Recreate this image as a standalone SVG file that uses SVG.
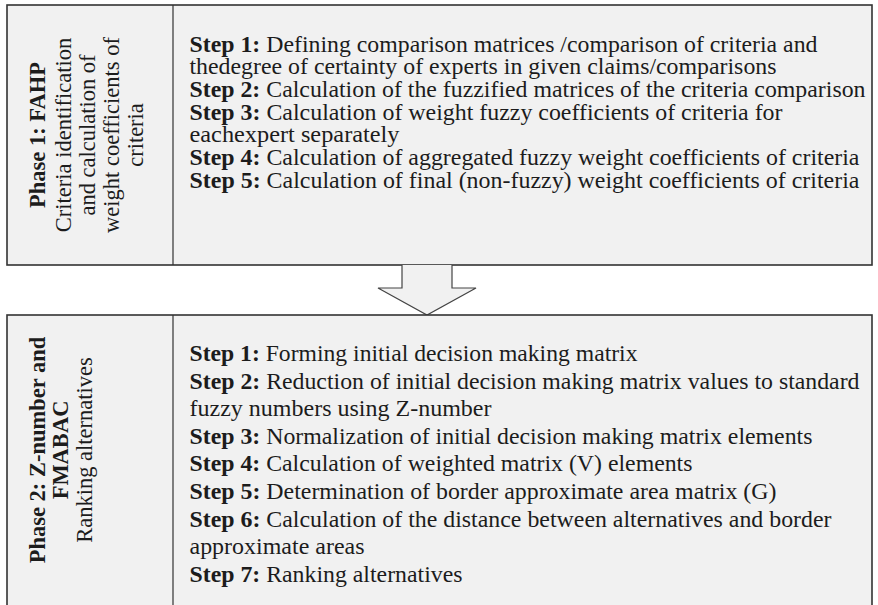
<svg xmlns="http://www.w3.org/2000/svg" width="878" height="605" viewBox="0 0 878 605">
<style>
.box{fill:#f1f1f1;stroke:#333;stroke-width:1.6}
.div{stroke:#333;stroke-width:1.2}
.st{font-family:"Liberation Serif","Times New Roman",serif;font-size:22.5px;fill:#1c1c1c}
.b{font-weight:bold}
.ph{font-family:"Liberation Serif","Times New Roman",serif;font-size:22.5px;fill:#1c1c1c;text-anchor:middle}
.arrow{fill:#f1f1f1;stroke:#444;stroke-width:1.2}
</style>
<rect width="878" height="605" fill="#fff"/>
<g id="phase1">
<rect class="box" x="7" y="5" width="865" height="260"/>
<line class="div" x1="173" y1="5" x2="173" y2="265"/>
<g transform="translate(0,135) rotate(-90)">
<text class="ph b" x="0" y="45">Phase 1: FAHP</text>
<text class="ph" x="0" y="71">Criteria identification</text>
<text class="ph" x="0" y="95">and calculation of</text>
<text class="ph" x="0" y="119">weight coefficients of</text>
<text class="ph" x="0" y="143">criteria</text>
</g>
<text class="st" x="189.5" y="51.5" textLength="628" lengthAdjust="spacingAndGlyphs"><tspan class="b">Step 1:</tspan> Defining comparison matrices /comparison of criteria and</text>
<text class="st" x="189.5" y="74.2" textLength="587" lengthAdjust="spacingAndGlyphs">thedegree of certainty of experts in given claims/comparisons</text>
<text class="st" x="189.5" y="96.9" textLength="676" lengthAdjust="spacingAndGlyphs"><tspan class="b">Step 2:</tspan> Calculation of the fuzzified matrices of the criteria comparison</text>
<text class="st" x="189.5" y="119.6" textLength="593" lengthAdjust="spacingAndGlyphs"><tspan class="b">Step 3:</tspan> Calculation of weight fuzzy coefficients of criteria for</text>
<text class="st" x="189.5" y="142.3" textLength="210" lengthAdjust="spacingAndGlyphs">eachexpert separately</text>
<text class="st" x="189.5" y="165" textLength="670" lengthAdjust="spacingAndGlyphs"><tspan class="b">Step 4:</tspan> Calculation of aggregated fuzzy weight coefficients of criteria</text>
<text class="st" x="189.5" y="187.7" textLength="670" lengthAdjust="spacingAndGlyphs"><tspan class="b">Step 5:</tspan> Calculation of final (non-fuzzy) weight coefficients of criteria</text>
</g>
<g id="connectors">
<path class="arrow" d="M402,265 L402,288 L378,288 L427,315 L476,288 L452,288 L452,265"/>
</g>
<g id="phase2">
<rect class="box" x="7" y="315" width="865" height="300"/>
<line class="div" x1="173" y1="315" x2="173" y2="615"/>
<g transform="translate(0,450) rotate(-90)">
<text class="ph b" x="0" y="45">Phase 2: Z-number and</text>
<text class="ph b" x="0" y="68">FMABAC</text>
<text class="ph" x="0" y="92">Ranking alternatives</text>
</g>
<text class="st" x="189.5" y="361" textLength="448" lengthAdjust="spacingAndGlyphs"><tspan class="b">Step 1:</tspan> Forming initial decision making matrix</text>
<text class="st" x="189.5" y="388.6" textLength="670" lengthAdjust="spacingAndGlyphs"><tspan class="b">Step 2:</tspan> Reduction of initial decision making matrix values to standard</text>
<text class="st" x="189.5" y="416.2" textLength="302" lengthAdjust="spacingAndGlyphs">fuzzy numbers using Z-number</text>
<text class="st" x="189.5" y="443.8" textLength="623" lengthAdjust="spacingAndGlyphs"><tspan class="b">Step 3:</tspan> Normalization of initial decision making matrix elements</text>
<text class="st" x="189.5" y="471.4" textLength="503" lengthAdjust="spacingAndGlyphs"><tspan class="b">Step 4:</tspan> Calculation of weighted matrix (V) elements</text>
<text class="st" x="189.5" y="499" textLength="587" lengthAdjust="spacingAndGlyphs"><tspan class="b">Step 5:</tspan> Determination of border approximate area matrix (G)</text>
<text class="st" x="189.5" y="526.6" textLength="642" lengthAdjust="spacingAndGlyphs"><tspan class="b">Step 6:</tspan> Calculation of the distance between alternatives and border</text>
<text class="st" x="189.5" y="554.2" textLength="175" lengthAdjust="spacingAndGlyphs">approximate areas</text>
<text class="st" x="189.5" y="581.8" textLength="273" lengthAdjust="spacingAndGlyphs"><tspan class="b">Step 7:</tspan> Ranking alternatives</text>
</g>
</svg>
